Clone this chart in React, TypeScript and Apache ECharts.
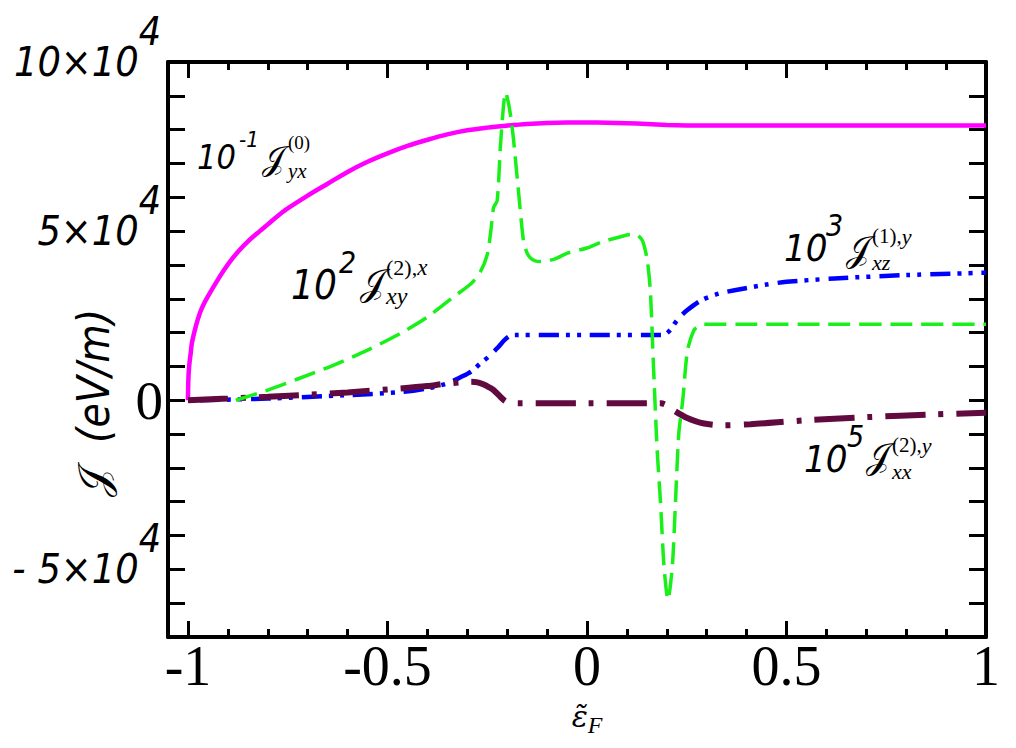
import React, { useEffect, useRef } from "react";
import * as echarts from "echarts";

// ---------- data ----------
const magX = [-1, -0.999, -0.997, -0.993, -0.99, -0.98, -0.97, -0.96, -0.95, -0.93, -0.91, -0.89, -0.87, -0.85, -0.82, -0.8, -0.775, -0.75, -0.7, -0.65, -0.6, -0.55, -0.5, -0.45, -0.4, -0.35, -0.3, -0.25, -0.2, -0.15, -0.1, -0.05, 0, 0.05, 0.1, 0.15, 0.2, 0.25, 0.3, 0.4, 0.5, 0.6, 0.7, 0.8, 0.9, 1];
const magY = [0, 6000, 10000, 14000, 17000, 22000, 25800, 28500, 30700, 34700, 38400, 41700, 44500, 46900, 50000, 52000, 54500, 56700, 60500, 64000, 67500, 70500, 73000, 75200, 77000, 78600, 79800, 80600, 81200, 81700, 82000, 82100, 82100, 82050, 81900, 81650, 81400, 81250, 81200, 81200, 81200, 81200, 81200, 81200, 81200, 81200];

const greenX = [-0.88, -0.8, -0.72, -0.636, -0.55, -0.467, -0.4, -0.335, -0.29, -0.267, -0.25, -0.241, -0.234, -0.225, -0.217, -0.21, -0.204, -0.197, -0.19, -0.184, -0.171, -0.159, -0.15, -0.141, -0.13, -0.116, -0.08, -0.049, 0, 0.035, 0.08, 0.109, 0.125, 0.139, 0.151, 0.159, 0.166, 0.176, 0.184, 0.193, 0.203, 0.214, 0.222, 0.23, 0.24, 0.252, 0.268, 0.28, 0.293, 0.31, 0.4, 0.6, 0.8, 1];
const greenY = [0, 3000, 6500, 10300, 14800, 19800, 24600, 30500, 34500, 38000, 43000, 50000, 57000, 59000, 75000, 86000, 91000, 88000, 83000, 77000, 61000, 47000, 43500, 42000, 41200, 41000, 41800, 43500, 45000, 46700, 48200, 49000, 48900, 47200, 41500, 32000, 12000, -15000, -29600, -49000, -59000, -49000, -29600, -10000, 0, 14800, 20700, 22000, 22500, 22500, 22500, 22500, 22500, 22500];

const blueX = [-0.97, -0.8, -0.6, -0.467, -0.4, -0.35, -0.317, -0.29, -0.266, -0.245, -0.224, -0.205, -0.19, -0.18, 0, 0.19, 0.2, 0.21, 0.228, 0.25, 0.286, 0.33, 0.37, 0.45, 0.5, 0.62, 0.8, 1];
const blueY = [0, 500, 1500, 2400, 3500, 5000, 6800, 8500, 11000, 13000, 15500, 18000, 19200, 19300, 19300, 19300, 19800, 21000, 24000, 26500, 29500, 31500, 32500, 34200, 35000, 36000, 37000, 37700];

const maroonX = [-1, -0.9, -0.8, -0.72, -0.6, -0.467, -0.4, -0.36, -0.317, -0.29, -0.274, -0.26, -0.245, -0.234, -0.216, -0.204, -0.19, -0.17, 0, 0.185, 0.2, 0.22, 0.25, 0.29, 0.34, 0.41, 0.54, 0.7, 0.87, 1];
const maroonY = [0, 500, 1000, 1500, 2300, 3500, 4200, 4800, 5300, 5500, 5300, 4700, 3800, 3000, 900, -300, -800, -900, -900, -900, -1500, -3200, -5200, -6800, -7400, -7100, -6000, -5000, -4200, -3700];

const xTickLabels = ["-1", "-0.5", "0", "0.5", "1"];
const xTickValues = [-1, -0.5, 0, 0.5, 1];
const yLabelValues = [100000, 50000, 0, -50000];
const yLabelTexts = ["{m|10×10}{s|4}", "{m|5×10}{s|4}", "{z|0}", "{m|- 5×10}{s|4}"];
const yTitle = { symbol: "𝒥", unit: "(eV/m)" };

const curveLabels = [
  { coef: "10", exp: "-1", sub: "yx", supUp: "(0)", supIt: "" },
  { coef: "10", exp: "2", sub: "xy", supUp: "(2),", supIt: "x" },
  { coef: "10", exp: "3", sub: "xz", supUp: "(1),", supIt: "y" },
  { coef: "10", exp: "5", sub: "xx", supUp: "(2),", supIt: "y" },
];

// ---------- layout ----------
const SANS = '"DejaVu Sans Condensed", "DejaVu Sans", sans-serif';
const SERIF = '"Liberation Serif", "DejaVu Serif", serif';
const SCRIPT = '"DejaVu Sans", "DejaVu Serif", "Noto Sans", serif';

const labelLayout = [
  { x: 197, y: 157, cs: 34, es: 22, ex: 239, ey: 139, jx: 262, jy: 158, js: 33, sx: 288, sy: 171, ss: 21, px: 288, py: 142, ps: 19 },
  { x: 291, y: 285, cs: 40, es: 30, ex: 339, ey: 262, jx: 360, jy: 282, js: 36, sx: 386, sy: 296, ss: 24, px: 386, py: 267, ps: 22 },
  { x: 784, y: 248, cs: 38, es: 30, ex: 826, ey: 225, jx: 846, jy: 249, js: 35, sx: 872, sy: 262, ss: 22, px: 872, py: 236, ps: 21 },
  { x: 804, y: 459, cs: 38, es: 30, ex: 847, ey: 436, jx: 866, jy: 456, js: 35, sx: 892, sy: 471, ss: 22, px: 892, py: 445, ps: 21 },
];

function txt(text: string, x: number, y: number, size: number, family: string, italic: boolean, rich?: any) {
  return {
    type: "text",
    x,
    y,
    silent: true,
    style: {
      text,
      fontSize: size,
      fontFamily: family,
      fontStyle: italic ? "italic" : "normal",
      lineHeight: size,
      fill: "#000",
      align: "left",
      verticalAlign: "middle",
      textAlign: "left",
      textVerticalAlign: "middle",
      rich,
    },
  };
}

function buildLabels() {
  const out: any[] = [];
  curveLabels.forEach((c, i) => {
    const L = labelLayout[i];
    out.push(txt(c.coef, L.x, L.y, L.cs, SANS, true));
    out.push(txt(c.exp, L.ex, L.ey, L.es, SANS, true));
    out.push(txt("𝒥", L.jx, L.jy, L.js, SCRIPT, false));
    out.push(txt(c.sub, L.sx, L.sy, L.ss, SERIF, true));
    const supText = c.supIt ? `{u|${c.supUp}}{i|${c.supIt}}` : `{u|${c.supUp}}`;
    out.push(
      txt(supText, L.px, L.py, L.ps, SERIF, false, {
        u: { fontFamily: SERIF, fontSize: L.ps, lineHeight: L.ps, fill: "#000" },
        i: { fontFamily: SERIF, fontStyle: "italic", fontSize: L.ps + 1, lineHeight: L.ps, fill: "#000" },
      })
    );
  });
  // y-axis title, rotated to read bottom-to-top
  out.push({
    type: "text",
    x: 93,
    y: 403,
    rotation: Math.PI / 2,
    silent: true,
    style: {
      legacy: false,
      text: `{j|${yTitle.symbol}}{t|  ${yTitle.unit}}`,
      align: "center",
      verticalAlign: "middle",
      fill: "#000",
      rich: {
        j: { fontFamily: SCRIPT, fontSize: 42, fill: "#000", align: "center" },
        t: { fontFamily: SANS, fontStyle: "italic", fontSize: 44, fill: "#000", align: "center" },
      },
    },
  });
  return out;
}

const pairs = (xs: number[], ys: number[]) => xs.map((x, i) => [x, ys[i]]);

export default function App() {
  const ref = useRef<HTMLDivElement>(null);
  useEffect(() => {
    if (!ref.current) return;
    const chart = echarts.init(ref.current, undefined, { renderer: "svg" });
    const black = "#000";
    const frameLine = { show: true, onZero: false, lineStyle: { color: black, width: 4 } };
    const yCommon = {
      type: "value",
      min: -70000,
      max: 100000,
      interval: 10000,
      splitLine: { show: false },
    };
    const xTickAxis = {
      type: "value",
      gridIndex: 1,
      min: -1,
      max: 1,
      interval: 0.5,
      axisLine: { show: false, onZero: false },
      axisTick: { show: true, inside: true, length: 16, lineStyle: { color: black, width: 3 } },
      minorTick: { show: true, splitNumber: 5, length: 8, lineStyle: { color: black, width: 3 } },
      splitLine: { show: false },
      minorSplitLine: { show: false },
    };
    const option: any = {
      animation: false,
      backgroundColor: "#fff",
      grid: [
        { left: 168, right: 30, top: 62, bottom: 111, containLabel: false, outerBoundsMode: "none" },
        { left: 188, right: 30, top: 62, bottom: 111, containLabel: false, outerBoundsMode: "none" },
      ],
      xAxis: [
        { type: "value", gridIndex: 0, position: "bottom", min: -1.05, max: 1, axisLine: frameLine, axisTick: { show: false }, axisLabel: { show: false }, splitLine: { show: false } },
        { type: "value", gridIndex: 0, position: "top", min: -1.05, max: 1, axisLine: frameLine, axisTick: { show: false }, axisLabel: { show: false }, splitLine: { show: false } },
        {
          ...xTickAxis,
          position: "bottom",
          axisLabel: {
            show: true,
            margin: 1,
            fontFamily: SERIF,
            fontSize: 56,
            color: black,
            formatter: (v: number) => {
              const k = xTickValues.findIndex((t) => Math.abs(t - v) < 1e-9);
              return k >= 0 ? xTickLabels[k] : "";
            },
          },
          name: "{e|ε̃}{s|F}",
          nameLocation: "middle",
          nameGap: 58,
          nameMoveOverlap: false,
          nameTextStyle: {
            rich: {
              e: { fontFamily: '"DejaVu Serif", serif', fontStyle: "italic", fontSize: 30, color: black },
              s: { fontFamily: SERIF, fontStyle: "italic", fontSize: 24, color: black, padding: [18, 0, 0, 0] },
            },
          },
        },
        { ...xTickAxis, position: "top", axisLabel: { show: false } },
      ],
      yAxis: [
        {
          ...yCommon,
          gridIndex: 0,
          position: "left",
          axisLine: frameLine,
          axisTick: { show: true, inside: true, length: 17, lineStyle: { color: black, width: 3 } },
          axisLabel: {
            show: true,
            margin: 5,
            formatter: (v: number) => {
              const k = yLabelValues.indexOf(v);
              return k >= 0 ? yLabelTexts[k] : "";
            },
            rich: {
              m: { fontFamily: SANS, fontStyle: "italic", fontSize: 41, color: black },
              s: { fontFamily: SANS, fontStyle: "italic", fontSize: 39, color: black, padding: [0, 2, 62, 0] },
              z: { fontFamily: SERIF, fontSize: 55, color: black },
            },
          },
        },
        {
          ...yCommon,
          gridIndex: 0,
          position: "right",
          axisLine: frameLine,
          axisTick: { show: true, inside: true, length: 17, lineStyle: { color: black, width: 3 } },
          axisLabel: { show: false },
        },
        { ...yCommon, gridIndex: 1, show: false },
      ],
      series: [
        {
          type: "line", xAxisIndex: 0, yAxisIndex: 0, data: pairs(magX, magY), showSymbol: false, smooth: 0.35, z: 2,
          lineStyle: { color: "#ff00ff", width: 4.5, type: "solid" },
        },
        {
          type: "line", xAxisIndex: 0, yAxisIndex: 0, data: pairs(blueX, blueY), showSymbol: false, smooth: 0.3, z: 3,
          lineStyle: { color: "#0000ff", width: 4.5, type: [20, 7, 4, 7, 4, 9], cap: "butt" },
        },
        {
          type: "line", xAxisIndex: 0, yAxisIndex: 0, data: pairs(maroonX, maroonY), showSymbol: false, smooth: 0.3, z: 4,
          lineStyle: { color: "#600a40", width: 6, type: [40, 13, 5, 13], cap: "butt" },
        },
        {
          type: "line", xAxisIndex: 0, yAxisIndex: 0, data: pairs(greenX, greenY), showSymbol: false, smooth: 0.25, z: 5,
          lineStyle: { color: "#19f019", width: 3.5, type: [22, 9], cap: "butt" },
        },
      ],
      graphic: buildLabels(),
    };
    chart.setOption(option);
    return () => chart.dispose();
  }, []);
  return (
    <div
      ref={ref}
      style={{ position: "absolute", left: 0, top: 0, width: 1016, height: 748, background: "#fff" }}
    />
  );
}
